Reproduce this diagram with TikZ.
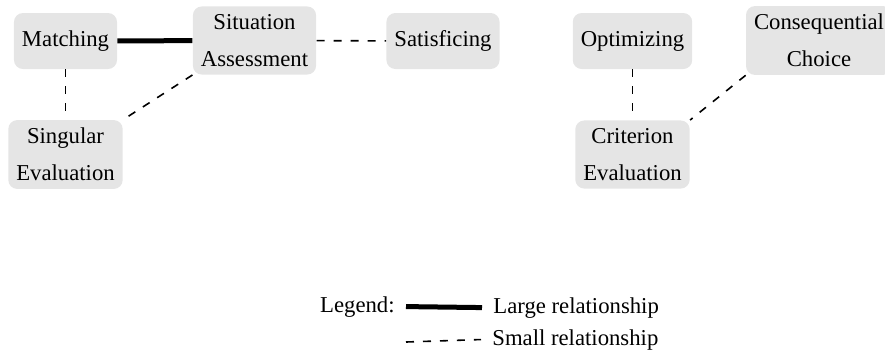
\documentclass[tikz,border=0pt]{standalone}
\usepackage{fontspec}
\setmainfont{Liberation Serif}
\usepackage{tikz}
\usetikzlibrary{positioning}

\begin{document}
\begin{tikzpicture}[
    x=0.5bp, y=-0.5bp,
    font=\fontsize{11.4}{18.5}\selectfont,
    concept/.style={
        rectangle, fill=black!10, draw=none,
        rounded corners=4.5bp, minimum height=28bp,
        inner xsep=4bp, inner ysep=4bp, align=center
    },
    legtext/.style={
        inner xsep=5.5bp, inner ysep=2bp
    },
    large/.style={
        line width=2.5bp, draw=black
    },
    small/.style={
        line width=0.8bp, draw=black, dash pattern=on 4bp off 4.5bp
    }
]
    \useasboundingbox (0,0) rectangle (885,356);

    % --- NODES ---
    \node [concept] (matching) at (65.5, 41) {Matching};
    \node [concept] (situation) at (254.5, 40.5) {Situation\\Assessment};
    \node [concept] (satisficing) at (443, 41) {Satisficing};
    \node [concept] (singular) at (65.5, 154.5) {Singular\\Evaluation};

    \node [concept] (optimizing) at (632.5, 41) {Optimizing};
    \node [concept] (consequential) at (819, 40.5) {Consequential\\Choice};
    \node [concept] (criterion) at (632.5, 154.5) {Criterion\\Evaluation};

    % --- LEGEND ---
    \node [legtext, anchor=base east] (legend) at (406, 312) {Legend:};
    \node [legtext, anchor=base west] (lg_large) at (482, 313) {Large relationship};
    \coordinate (lg_small_start) at (406, 342);
    \node [legtext, anchor=base west] (lg_small) at (481, 345) {Small relationship};

    % --- CONNECTING LINES ---
    \draw [large] (matching) -- (situation);
    \draw [small] (situation) -- (satisficing);
    \draw [small] (matching) -- (singular);
    \draw [small] (situation.south west) -- (singular.north east);

    \draw [small] (optimizing) -- (criterion);
    \draw [small] (consequential.south west) -- (criterion.north east);

    \draw [large] (legend.east) -- (lg_large.west);
    \draw [small] (lg_small_start) -- (lg_small.west);

\end{tikzpicture}
\end{document}
